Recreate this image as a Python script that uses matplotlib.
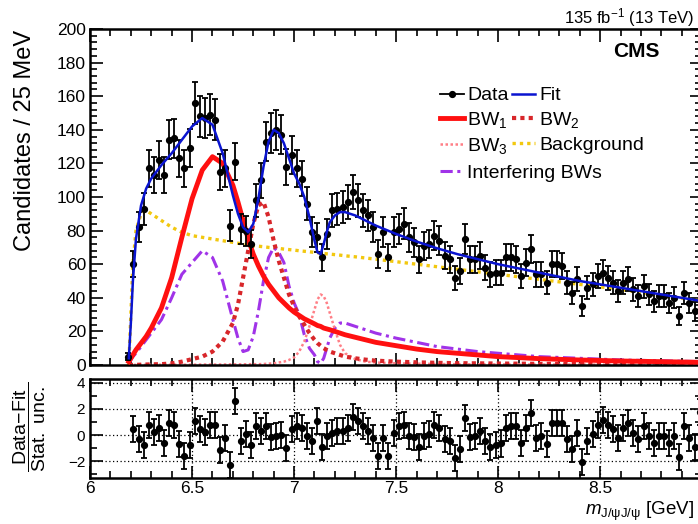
import numpy as np
import matplotlib
matplotlib.use("Agg")
import matplotlib.pyplot as plt
from matplotlib.ticker import MultipleLocator, FormatStrFormatter
from matplotlib.lines import Line2D

plt.rcParams['font.family'] = ['Liberation Sans', 'DejaVu Sans']
plt.rcParams['mathtext.fontset'] = 'custom'
plt.rcParams['mathtext.rm'] = 'Liberation Sans'
plt.rcParams['mathtext.it'] = 'Liberation Sans:italic'

# binning: 25 MeV bins, first filled bin starts at 6.175 GeV
bin_lo = 6.175
bin_w = 0.025

counts = [5, 60, 82, 93, 117, 113, 122, 113, 134, 135,
          123, 117, 129, 156, 148, 147, 149, 146, 115, 117,
          83, 121, 81, 80, 72, 98, 110, 133, 138, 140,
          137, 118, 125, 117, 111, 96, 79, 76, 64, 78,
          92, 93, 94, 97, 103, 98, 92, 89, 82, 66,
          79, 64, 79, 81, 84, 76, 73, 63, 71, 72,
          77, 74, 65, 63, 52, 56, 75, 63, 63, 65,
          58, 54, 55, 55, 64, 64, 63, 53, 61, 69,
          54, 54, 49, 60, 60, 59, 49, 43, 51, 35,
          46, 48, 53, 55, 52, 49, 44, 49, 51, 45,
          41, 47, 42, 38, 41, 41, 37, 40, 29, 43,
          37, 32, 49]

# pulls (Data-Fit)/stat. unc., starting at the second bin
pulls = [0.43, -0.33, -0.8, 0.8, 0.2, 0.55, -0.6, 0.9, 0.8, -0.7,
         -1.6, -0.8, 1.05, 0.43, 0.2, 0.8, 0.8, -1.15, -0.2, -2.3,
         2.6, -0.45, 0.05, -0.8, 0.68, 0.3, 0.68, -0.15, -0.08, 0.0,
         -1.0, 0.43, 0.68, 0.55, -0.08, -0.45, 1.05, -0.95, -0.08, 0.18,
         0.3, 0.3, 0.55, 1.4, 1.05, 0.68, 0.3, -0.2, -1.6, -0.2,
         -1.6, 0.18, 0.68, 0.8, -0.08, -0.15, -0.95, -0.08, 0.05, 0.8,
         0.55, -0.33, -0.45, -1.8, -1.08, 1.3, -0.15, -0.08, 0.3, -0.45,
         -0.95, -0.8, -0.65, 0.55, 0.68, 0.68, -0.58, 0.55, 1.68, -0.2,
         -0.08, -0.7, 0.93, 0.93, 0.93, -0.33, -1.08, 0.18, -2.08, -0.45,
         0.05, 0.8, 1.18, 0.8, 0.43, -0.2, 0.55, 0.93, 0.18, -0.33,
         0.68, -0.08, -0.58, -0.08, -0.08, -0.58, -0.08, -1.7, 0.68, -0.2,
         -0.95, 1.8]

# curves
m_curve = [6.19, 6.2, 6.21, 6.225, 6.25, 6.275, 6.3, 6.35, 6.4, 6.45,
           6.5, 6.55, 6.6, 6.65, 6.7, 6.725, 6.75, 6.775, 6.8, 6.825,
           6.85, 6.875, 6.9, 6.925, 6.95, 6.975, 7.0, 7.025, 7.05, 7.075,
           7.1, 7.115, 7.13, 7.145, 7.16, 7.175, 7.2, 7.225, 7.25, 7.3,
           7.35, 7.4, 7.5, 7.6, 7.7, 7.8, 7.9, 8.0, 8.2, 8.4,
           8.6, 8.8, 9.0]
fit = [4, 25, 50, 75, 95, 105, 111, 119, 126, 134,
       142, 147, 143, 126, 101, 90, 82, 79, 84, 99,
       118, 133, 140, 138, 132, 123, 114, 108, 100, 88,
       74, 67, 66, 72, 79, 85, 89, 91, 91, 89,
       86, 83, 78, 73.5, 69.5, 66, 63, 60, 55, 50,
       46, 42, 38]
bw1 = [2, 4, 6, 9, 13, 17, 22, 34, 52, 76,
       99, 116, 124, 120, 107, 97, 86, 75, 66, 59,
       53, 48, 44, 40, 37, 34, 31.5, 29.5, 27.5, 26,
       24.5, 23.5, 23, 22, 21.5, 21, 20, 19, 18, 16.5,
       15, 13.5, 11.5, 9.5, 8, 7, 6, 5, 3.8, 3,
       2.4, 2, 1.6]
bw2 = [0, 0, 0.1, 0.1, 0.2, 0.3, 0.4, 0.5, 1, 2,
       3.5, 5, 8, 14, 25, 36, 52, 68, 84, 95,
       97, 88, 74, 62, 52, 42, 35, 29, 24, 19,
       15, 13, 11.5, 10, 9, 8, 7, 6, 5, 4,
       3.2, 2.6, 2, 1.6, 1.3, 1.1, 1, 0.9, 0.7, 0.6,
       0.5, 0.4, 0.4]
bw3 = [0, 0, 0.1, 0.1, 0.1, 0.1, 0.1, 0.2, 0.2, 0.2,
       0.2, 0.3, 0.3, 0.3, 0.4, 0.4, 0.4, 0.5, 0.5, 0.5,
       0.6, 0.8, 1, 1.5, 2, 3, 4.5, 8, 14, 23,
       33, 39, 42, 41, 37, 31, 21, 12, 7, 3.5,
       2, 1.5, 1, 0.8, 0.6, 0.5, 0.4, 0.4, 0.3, 0.3,
       0.2, 0.2, 0.2]
bkg = [0, 30, 60, 80, 90, 92, 90, 86, 82, 79,
       77, 76, 75, 74, 73, 72.5, 72, 71.5, 71, 70.7,
       70.4, 70, 69.7, 69.4, 69, 68.7, 68.4, 68, 67.7, 67.4,
       67, 66.8, 66.6, 66.4, 66.2, 66, 65.7, 65.4, 65, 64.4,
       63.7, 63, 61.5, 60, 58.5, 57, 55.5, 54, 51, 48,
       45, 41.5, 38]
interf = [1, 3, 5, 7, 11, 15, 19, 27, 40, 54,
          61, 68, 64, 50, 27, 16, 8, 9, 17, 32,
          50, 64, 70, 67, 61, 47, 37, 30, 18, 10,
          6, 2, 1, 4, 10, 16, 22, 25, 25, 23,
          21, 19, 16, 13.5, 11, 9.5, 8, 7, 5, 4,
          3, 2.5, 2]

counts = np.array(counts, dtype=float)
mass = bin_lo + bin_w * (np.arange(len(counts)) + 0.5)
err = np.sqrt(counts)

fig = plt.figure(figsize=(6.98, 5.24), dpi=100)
ax = fig.add_axes([0.129, 0.3034, 0.877, 0.6413])
axr = fig.add_axes([0.129, 0.0878, 0.877, 0.1889], sharex=ax)

c_fit = '#0a14d0'
c_bw1 = '#ff1010'
c_bw2 = '#d8262a'
c_bw3 = '#ff7f86'
c_bkg = '#f2c80f'
c_int = '#a033e8'
ls_dot = (0, (1, 1))
ls_bkg = (0, (1, 1.2))
ls_int = (0, (4, 1.5, 1, 1.5))

ax.plot(m_curve, bkg, color=c_bkg, lw=2.4, ls=ls_bkg, zorder=2)
ax.plot(m_curve, interf, color=c_int, lw=2.2, ls=ls_int, zorder=2)
ax.plot(m_curve, bw3, color=c_bw3, lw=1.8, ls=ls_dot, zorder=2)
ax.plot(m_curve, bw2, color=c_bw2, lw=3.0, ls=ls_dot, zorder=2)
ax.plot(m_curve, bw1, color=c_bw1, lw=3.5, zorder=3)
ax.errorbar(mass, counts, yerr=err, fmt='o', color='black', ms=4.2,
            elinewidth=1.3, capsize=2.2, capthick=1.3, zorder=4)
ax.plot(m_curve, fit, color=c_fit, lw=1.8, zorder=5)

ax.set_xlim(6, 9)
ax.set_ylim(0, 200)
ax.xaxis.set_major_locator(MultipleLocator(0.5))
ax.xaxis.set_minor_locator(MultipleLocator(0.1))
ax.xaxis.set_major_formatter(FormatStrFormatter('%g'))
ax.yaxis.set_major_locator(MultipleLocator(20))
ax.yaxis.set_minor_locator(MultipleLocator(4))
for a in (ax, axr):
    a.tick_params(which='both', direction='in', top=True, right=True,
                  width=1.2, labelsize=12.5, colors='black')
    a.tick_params(which='major', length=9)
    a.tick_params(which='minor', length=5)
    for s in a.spines.values():
        s.set_linewidth(1.8)
ax.tick_params(labelbottom=False)
ax.tick_params(axis='y', pad=3)

# residual panel
axr.errorbar(mass[1:], pulls, yerr=1.0, fmt='o', color='black', ms=4.2,
             elinewidth=1.3, capsize=2.2, capthick=1.3, zorder=4)
axr.set_ylim(-3.3, 4.3)
axr.yaxis.set_major_locator(MultipleLocator(2))
axr.yaxis.set_minor_locator(MultipleLocator(1))
axr.grid(True, which='major', color='black', ls=(0, (1, 2)), lw=0.9)
axr.tick_params(axis='x', labelsize=12.5, pad=2.5)
axr.tick_params(axis='y', labelsize=11)

# legend: two blocks so that the long last entry does not widen column 1
h_data = Line2D([], [], marker='o', color='black', ms=4.2, lw=1.3)
h_fit = Line2D([], [], color=c_fit, lw=1.8)
h_bw1 = Line2D([], [], color=c_bw1, lw=3.5)
h_bw2 = Line2D([], [], color=c_bw2, lw=3.0, ls=ls_dot)
h_bw3 = Line2D([], [], color=c_bw3, lw=1.8, ls=ls_dot)
h_bkg = Line2D([], [], color=c_bkg, lw=2.4, ls=ls_bkg)
h_int = Line2D([], [], color=c_int, lw=2.2, ls=ls_int)
leg_kw = dict(frameon=False, fontsize=14, handlelength=1.2, handletextpad=0.2,
              labelspacing=0.3, borderaxespad=0, borderpad=0, loc='upper left')
leg1 = ax.legend([h_data, h_bw1, h_bw3, h_fit, h_bw2, h_bkg],
                 ['Data', 'BW$_1$', 'BW$_3$', 'Fit', 'BW$_2$', 'Background'],
                 ncol=2, columnspacing=0.15, bbox_to_anchor=(0.572, 0.828), **leg_kw)
ax.add_artist(leg1)
ax.legend([h_int], ['Interfering BWs'], bbox_to_anchor=(0.572, 0.598), **leg_kw)

ax.text(0.93, 0.932, 'CMS', transform=ax.transAxes, ha='right', va='center',
        fontsize=15, fontweight='bold')
fig.text(0.995, 1 - 18 / 524, '135 fb$^{-1}$ (13 TeV)', ha='right', va='center',
         fontsize=12)
fig.text(25 / 698, 1 - 30 / 524, 'Candidates / 25 MeV', rotation=90, ha='center',
         va='top', fontsize=17)
fig.text(30 / 698, 1 - 427 / 524, r'$\dfrac{\mathrm{Data\!-\!Fit}}{\mathrm{Stat.\ unc.}}$',
         rotation=90, ha='center', va='center', fontsize=14)
fig.text(0.995, 0.002, r'$m_{\mathrm{J/\psi J/\psi}}$ [GeV]', ha='right',
         va='bottom', fontsize=13.5)

fig.savefig('out.png', dpi=100)
